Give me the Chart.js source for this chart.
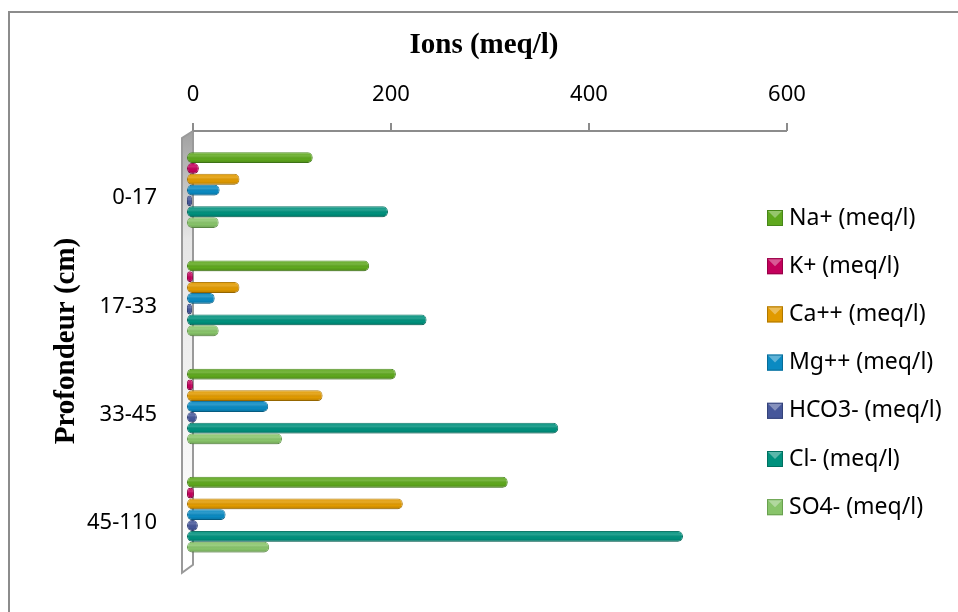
<!DOCTYPE html>
<html lang="fr">
<head>
  <meta charset="UTF-8">
  <title>Ions (meq/l)</title>
  <script src="https://cdn.jsdelivr.net/npm/chart.js"></script>
  <style>
    html, body { margin: 0; padding: 0; background: #fff; }
    canvas { display: block; }
  </style>
</head>
<body>
  <canvas id="ionsChart" width="958" height="612"></canvas>
  <script>
    // données
    const profondeurs = ['0-17', '17-33', '33-45', '45-110'];
    const naPlus = [127, 184, 211, 324];
    const kPlus = [12, 6, 6, 7];
    const caPlus = [53, 53, 137, 218];
    const mgPlus = [33, 28, 82, 39];
    const hco3 = [5, 5, 10, 11];
    const clMoins = [203, 242, 375, 501];
    const so4 = [32, 32, 96, 83];
    const ticksX = [0, 200, 400, 600];

    const series = [
      { label: 'Na+ (meq/l)', data: naPlus, color: '#5fa81e', edge: '#47861a' },
      { label: 'K+ (meq/l)', data: kPlus, color: '#c4005c', edge: '#960046' },
      { label: 'Ca++ (meq/l)', data: caPlus, color: '#e19a00', edge: '#b07800' },
      { label: 'Mg++ (meq/l)', data: mgPlus, color: '#0a8ac2', edge: '#076c98' },
      { label: 'HCO3- (meq/l)', data: hco3, color: '#46579a', edge: '#34437a' },
      { label: 'Cl- (meq/l)', data: clMoins, color: '#00917d', edge: '#007060' },
      { label: 'SO4- (meq/l)', data: so4, color: '#88c46a', edge: '#69a04f' }
    ];

    const sansFont = "'Noto Sans', 'Open Sans', sans-serif";
    const serifFont = "'Liberation Serif', 'Times New Roman', serif";
    const depth = 6; // décalage 3D entre le mur et la face avant des barres

    // cadre, mur gauche, axe du haut, légende et titre vertical
    const decor = {
      id: 'decor',
      beforeDraw(chart) {
        const ctx = chart.ctx;
        ctx.save();
        ctx.fillStyle = '#fff';
        ctx.fillRect(0, 0, chart.width, chart.height);
        ctx.strokeStyle = '#8c8c8c';
        ctx.lineWidth = 2;
        ctx.strokeRect(9, 12, chart.width + 20, chart.height + 20);
        ctx.restore();
      },
      beforeDatasetsDraw(chart) {
        const ctx = chart.ctx;
        const x = chart.scales.x;
        const area = chart.chartArea;
        const back = x.getPixelForValue(0) + depth;
        const front = back - 11;
        const top = area.top - 5;
        const bottom = area.bottom - 4;
        ctx.save();
        const g = ctx.createLinearGradient(0, top, 0, bottom);
        g.addColorStop(0, '#a0a0a0');
        g.addColorStop(0.25, '#e6e6e6');
        g.addColorStop(1, '#ffffff');
        ctx.beginPath();
        ctx.moveTo(back, top);
        ctx.lineTo(front, top + 7);
        ctx.lineTo(front, bottom + 8);
        ctx.lineTo(back, bottom);
        ctx.closePath();
        ctx.fillStyle = g;
        ctx.fill();
        ctx.strokeStyle = '#9a9a9a';
        ctx.lineWidth = 2;
        ctx.stroke();
        // axe supérieur avec graduations
        ctx.strokeStyle = '#8c8c8c';
        ctx.beginPath();
        ctx.moveTo(back, top);
        ctx.lineTo(x.getPixelForValue(600) + depth, top);
        ticksX.forEach(v => {
          const px = x.getPixelForValue(v) + depth;
          ctx.moveTo(px, top);
          ctx.lineTo(px, top - 8);
        });
        ctx.stroke();
        ctx.restore();
      },
      afterDatasetsDraw(chart) {
        // ombrage cylindrique des barres
        const ctx = chart.ctx;
        ctx.save();
        chart.data.datasets.forEach((ds, i) => {
          chart.getDatasetMeta(i).data.forEach(bar => {
            const h = bar.height;
            const y0 = bar.y - h / 2;
            const x0 = Math.min(bar.base, bar.x);
            const w = Math.abs(bar.x - bar.base);
            const g = ctx.createLinearGradient(0, y0, 0, y0 + h);
            g.addColorStop(0, 'rgba(255,255,255,0.05)');
            g.addColorStop(0.35, 'rgba(255,255,255,0.15)');
            g.addColorStop(0.65, 'rgba(0,0,0,0)');
            g.addColorStop(1, 'rgba(0,0,0,0.18)');
            ctx.fillStyle = g;
            ctx.beginPath();
            ctx.roundRect(x0, y0, w, h, Math.min(5, w / 2, h / 2));
            ctx.fill();
          });
        });
        ctx.restore();
      },
      afterDraw(chart) {
        const ctx = chart.ctx;
        ctx.save();
        // titre de l'axe vertical
        ctx.translate(67, 341);
        ctx.rotate(-Math.PI / 2);
        ctx.font = 'bold 29px ' + serifFont;
        ctx.fillStyle = '#000';
        ctx.textAlign = 'center';
        ctx.textBaseline = 'middle';
        ctx.fillText('Profondeur (cm)', 0, 0);
        ctx.restore();

        // légende
        ctx.save();
        ctx.font = '23px ' + sansFont;
        ctx.textBaseline = 'middle';
        chart.data.datasets.forEach((ds, i) => {
          const cy = 218 + i * 48.2;
          ctx.fillStyle = ds.backgroundColor;
          ctx.fillRect(767, cy - 8, 16, 16);
          ctx.strokeStyle = ds.borderColor;
          ctx.lineWidth = 1;
          ctx.strokeRect(767.5, cy - 7.5, 15, 15);
          ctx.fillStyle = 'rgba(255,255,255,0.35)';
          ctx.beginPath();
          ctx.moveTo(768, cy - 7);
          ctx.lineTo(782, cy - 7);
          ctx.lineTo(775, cy);
          ctx.closePath();
          ctx.fill();
          ctx.fillStyle = '#000';
          ctx.fillText(ds.label, 789, cy);
        });
        ctx.restore();
      }
    };

    new Chart(document.getElementById('ionsChart'), {
      type: 'bar',
      data: {
        labels: profondeurs,
        datasets: series.map(s => ({
          label: s.label,
          data: s.data,
          backgroundColor: s.color,
          borderColor: s.edge,
          borderWidth: 1,
          borderRadius: 5,
          borderSkipped: false,
          categoryPercentage: 0.7,
          barPercentage: 1.0
        }))
      },
      options: {
        indexAxis: 'y',
        responsive: false,
        animation: false,
        devicePixelRatio: 1,
        layout: { padding: { left: 0, top: 0, right: 177, bottom: 36 } },
        plugins: {
          legend: { display: false },
          tooltip: { enabled: false }
        },
        scales: {
          x: {
            position: 'top',
            min: 0,
            max: 600,
            grid: { display: false, drawTicks: false },
            border: { display: false },
            ticks: {
              stepSize: 200,
              labelOffset: depth,
              padding: 28,
              color: '#000',
              font: { family: sansFont, size: 22 }
            },
            title: {
              display: true,
              text: 'Ions (meq/l)',
              color: '#000',
              padding: { top: 28, bottom: 0 },
              font: { family: serifFont, size: 29, weight: 'bold' }
            },
            afterFit(scale) { scale.height = 136; }
          },
          y: {
            grid: { display: false, drawTicks: false },
            border: { display: false },
            ticks: {
              padding: 30,
              labelOffset: 8,
              color: '#000',
              font: { family: sansFont, size: 22 }
            },
            afterFit(scale) { scale.width = 187; }
          }
        }
      },
      plugins: [decor]
    });
  </script>
</body>
</html>
